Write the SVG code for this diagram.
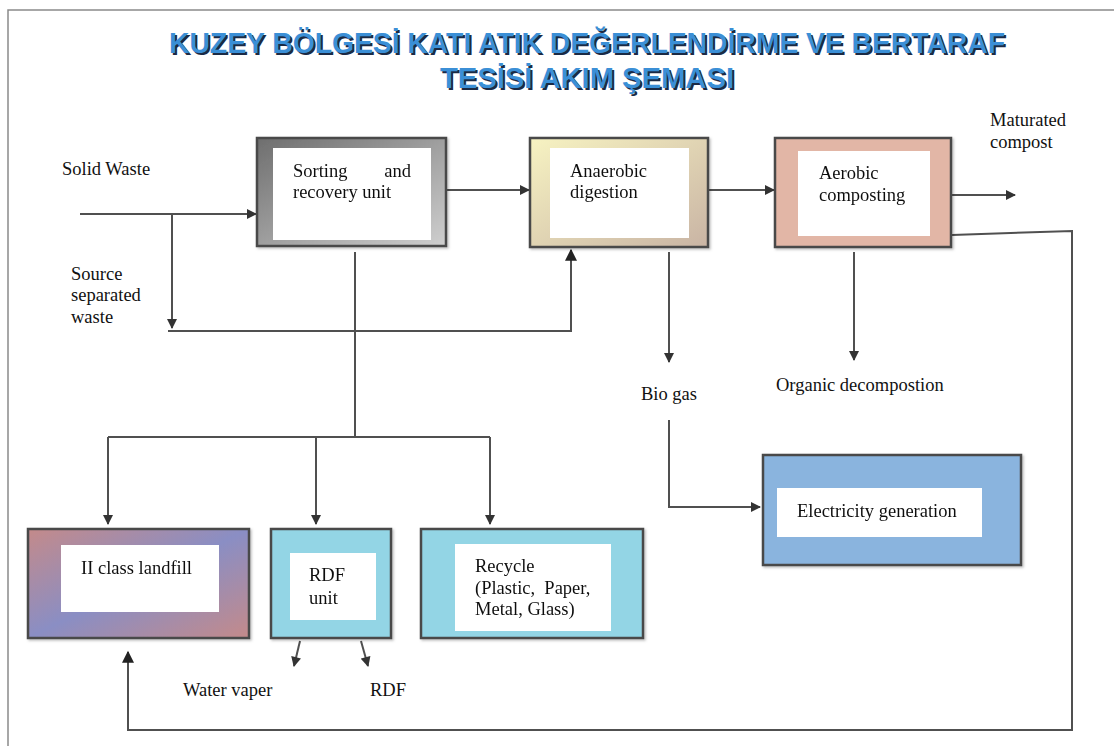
<svg xmlns="http://www.w3.org/2000/svg" width="1114" height="746" viewBox="0 0 1114 746">
  <style>
    .lbl { font-family: "Liberation Serif", "Times New Roman", serif; font-size: 18.5px; fill: #111; }
    .title { font-family: "Liberation Sans", Arial, sans-serif; font-weight: bold; font-size: 29px; fill: #3b8fd6; }
    .shadow { font-family: "Liberation Sans", Arial, sans-serif; font-weight: bold; font-size: 29px; fill: #1b2a44; }
    .box { stroke: #4a4a4a; stroke-width: 2.5; }
    .inner { fill: #ffffff; }
    .wire { fill: none; stroke: #505050; stroke-width: 2; }
    .frame { fill: none; stroke: #8a8a8a; stroke-width: 1.5; }
  </style>
  <defs>
    <marker id="arrow" viewBox="0 0 10 10" refX="9" refY="5" markerWidth="5.5" markerHeight="5" orient="auto" markerUnits="strokeWidth">
      <path d="M0,0 L10,5 L0,10 z" fill="#333"/>
    </marker>
    <marker id="arrowBig" viewBox="0 0 10 10" refX="9" refY="5" markerWidth="7" markerHeight="6" orient="auto" markerUnits="strokeWidth">
      <path d="M0,0 L10,5 L0,10 z" fill="#222"/>
    </marker>
    <linearGradient id="gSort" x1="0" y1="0" x2="1" y2="1">
      <stop offset="0" stop-color="#6e6e6e"/>
      <stop offset="1" stop-color="#cfcfcf"/>
    </linearGradient>
    <linearGradient id="gAnaer" x1="0" y1="0" x2="1" y2="1">
      <stop offset="0" stop-color="#f7f3c2"/>
      <stop offset="1" stop-color="#c9b4a4"/>
    </linearGradient>
    <linearGradient id="gLand" x1="0" y1="0" x2="1" y2="1">
      <stop offset="0" stop-color="#c48a8a"/>
      <stop offset="0.5" stop-color="#8a8ec4"/>
      <stop offset="1" stop-color="#c48a8a"/>
    </linearGradient>
    <filter id="soft" x="-5%" y="-5%" width="110%" height="115%">
      <feDropShadow dx="1.5" dy="1.5" stdDeviation="1" flood-color="#000" flood-opacity="0.25"/>
    </filter>
  </defs>

  <!-- page frame -->
  <path class="frame" d="M8,746 L8,10 L1114,10"/>

  <!-- heading with drop shadow -->
  <g id="title" xml:space="preserve">
    <text class="shadow" x="589" y="55" text-anchor="middle" textLength="836" lengthAdjust="spacingAndGlyphs">KUZEY BÖLGESİ KATI ATIK DEĞERLENDİRME VE BERTARAF</text>
    <text class="title" x="587" y="53" text-anchor="middle" textLength="836" lengthAdjust="spacingAndGlyphs">KUZEY BÖLGESİ KATI ATIK DEĞERLENDİRME VE BERTARAF</text>
    <text class="shadow" x="589" y="90" text-anchor="middle" textLength="294" lengthAdjust="spacingAndGlyphs">TESİSİ  AKIM ŞEMASI</text>
    <text class="title" x="587" y="88" text-anchor="middle" textLength="294" lengthAdjust="spacingAndGlyphs">TESİSİ  AKIM ŞEMASI</text>
  </g>

  <!-- connectors -->
  <g id="connectors">
    <path class="wire" d="M80,214 L256,214" marker-end="url(#arrow)"/>
    <path class="wire" d="M172,214 L172,328" marker-end="url(#arrow)"/>
    <path class="wire" d="M168,331 L571,331 L571,250" marker-end="url(#arrowBig)"/>
    <path class="wire" d="M447,190 L529,190" marker-end="url(#arrow)"/>
    <path class="wire" d="M709,190 L774,190" marker-end="url(#arrow)"/>
    <path class="wire" d="M952,195 L1015,195" marker-end="url(#arrow)"/>
    <path class="wire" d="M952,235 L1072,231 L1072,730 L128,730 L128,652" marker-end="url(#arrowBig)"/>
    <path class="wire" d="M355,252 L355,437"/>
    <path class="wire" d="M108,437 L490,437"/>
    <path class="wire" d="M108,437 L108,524" marker-end="url(#arrow)"/>
    <path class="wire" d="M316,437 L316,524" marker-end="url(#arrow)"/>
    <path class="wire" d="M490,437 L490,524" marker-end="url(#arrow)"/>
    <path class="wire" d="M669,252 L669,362" marker-end="url(#arrow)"/>
    <path class="wire" d="M669,420 L669,507 L760,507" marker-end="url(#arrow)"/>
    <path class="wire" d="M854,252 L854,360" marker-end="url(#arrow)"/>
    <path class="wire" d="M300,641 L294,666" marker-end="url(#arrow)"/>
    <path class="wire" d="M361,641 L368,666" marker-end="url(#arrow)"/>
  </g>

  <!-- free-standing labels -->
  <g id="labels">
    <text class="lbl" x="62" y="175">Solid Waste</text>
    <text class="lbl" x="71" y="280">Source</text>
    <text class="lbl" x="71" y="301">separated</text>
    <text class="lbl" x="71" y="323">waste</text>
    <text class="lbl" x="990" y="126">Maturated</text>
    <text class="lbl" x="990" y="148">compost</text>
    <text class="lbl" x="641" y="400">Bio gas</text>
    <text class="lbl" x="776" y="391">Organic decompostion</text>
    <text class="lbl" x="183" y="696">Water vaper</text>
    <text class="lbl" x="370" y="696">RDF</text>
  </g>

  <!-- process units -->
  <g id="sorting" filter="url(#soft)">
    <rect class="box" x="257" y="138" width="189" height="108" fill="url(#gSort)"/>
    <rect class="inner" x="273" y="148" width="158" height="92"/>
    <text class="lbl" x="293" y="177">Sorting</text>
    <text class="lbl" x="411" y="177" text-anchor="end">and</text>
    <text class="lbl" x="293" y="198">recovery unit</text>
  </g>

  <g id="anaerobic" filter="url(#soft)">
    <rect class="box" x="530" y="138" width="178" height="109" fill="url(#gAnaer)"/>
    <rect class="inner" x="550" y="148" width="139" height="90"/>
    <text class="lbl" x="570" y="177">Anaerobic</text>
    <text class="lbl" x="570" y="198">digestion</text>
  </g>

  <g id="aerobic" filter="url(#soft)">
    <rect class="box" x="775" y="138" width="176" height="109" fill="#e2b6a6"/>
    <rect class="inner" x="798" y="151" width="132" height="85"/>
    <text class="lbl" x="819" y="179">Aerobic</text>
    <text class="lbl" x="819" y="201">composting</text>
  </g>

  <g id="electricity" filter="url(#soft)">
    <rect class="box" x="763" y="455" width="258" height="110" fill="#8ab4de"/>
    <rect class="inner" x="777" y="488" width="205" height="49"/>
    <text class="lbl" x="797" y="517">Electricity generation</text>
  </g>

  <g id="landfill" filter="url(#soft)">
    <rect class="box" x="28" y="529" width="221" height="109" fill="url(#gLand)"/>
    <rect class="inner" x="61" y="545" width="158" height="67"/>
    <text class="lbl" x="81" y="574">II class landfill</text>
  </g>

  <g id="rdf-unit" filter="url(#soft)">
    <rect class="box" x="271" y="529" width="120" height="109" fill="#93d5e5"/>
    <rect class="inner" x="290" y="553" width="86" height="67"/>
    <text class="lbl" x="309" y="581">RDF</text>
    <text class="lbl" x="309" y="604">unit</text>
  </g>

  <g id="recycle" filter="url(#soft)">
    <rect class="box" x="421" y="529" width="222" height="109" fill="#93d5e5"/>
    <rect class="inner" x="455" y="544" width="156" height="87"/>
    <text class="lbl" x="475" y="572">Recycle</text>
    <text class="lbl" x="475" y="594" xml:space="preserve">(Plastic,  Paper,</text>
    <text class="lbl" x="475" y="615">Metal, Glass)</text>
  </g>
</svg>
